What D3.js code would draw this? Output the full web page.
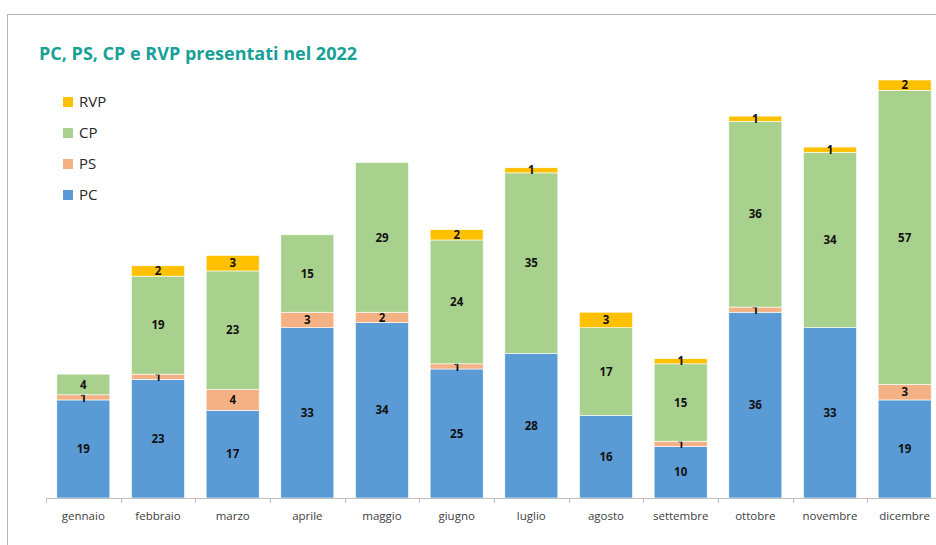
<!DOCTYPE html>
<meta charset="utf-8" />
<title>PC, PS, CP e RVP presentati nel 2022</title>
<script src="https://d3js.org/d3.v7.min.js"></script>
<style>
  body { margin: 0; background: #fff; }
  svg { display: block; font-family: "Open Sans", "Liberation Sans", sans-serif; }
</style>
<div id="chart"></div>
<script>
  // months and series values
  var months = ["gennaio", "febbraio", "marzo", "aprile", "maggio", "giugno",
    "luglio", "agosto", "settembre", "ottobre", "novembre", "dicembre"];
  var pc  = [19, 23, 17, 33, 34, 25, 28, 16, 10, 36, 33, 19];
  var ps  = [1, 1, 4, 3, 2, 1, 0, 0, 1, 1, 0, 3];
  var cp  = [4, 19, 23, 15, 29, 24, 35, 17, 15, 36, 34, 57];
  var rvp = [0, 2, 3, 0, 0, 2, 1, 3, 1, 1, 1, 2];

  var keys = ["PC", "PS", "CP", "RVP"];
  var colors = { PC: "#5b9bd5", PS: "#f4b183", CP: "#a9d18e", RVP: "#ffc000" };

  var width = 936, height = 545;
  var x0 = 46, x1 = 942;

  var table = months.map(function (m, i) {
    return { month: m, PC: pc[i], PS: ps[i], CP: cp[i], RVP: rvp[i] };
  });

  var svg = d3.select("#chart").append("svg")
    .attr("width", width)
    .attr("height", height);

  // outer frame
  svg.append("rect")
    .attr("x", 7.5).attr("y", 14.5)
    .attr("width", 1000).attr("height", 1000)
    .attr("fill", "none")
    .attr("stroke", "#b3b3b3");

  svg.append("text")
    .attr("x", 39).attr("y", 60)
    .attr("fill", "#17a097")
    .attr("font-size", 18)
    .attr("font-weight", "bold")
    .text("PC, PS, CP e RVP presentati nel 2022");

  var x = d3.scaleBand()
    .domain(months)
    .range([x0, x1])
    .paddingInner(0.29)
    .paddingOuter(0.145);

  var y = d3.scaleLinear()
    .domain([0, 81])
    .range([498, 80]);

  var stack = d3.stack().keys(keys)(table);

  var layer = svg.append("g").selectAll("g")
    .data(stack)
    .join("g")
    .attr("fill", function (d) { return colors[d.key]; });

  layer.selectAll("rect")
    .data(function (d) { return d.filter(function (p) { return p[1] > p[0]; }); })
    .join("rect")
    .attr("x", function (d) { return x(d.data.month); })
    .attr("y", function (d) { return y(d[1]); })
    .attr("width", x.bandwidth())
    .attr("height", function (d) { return y(d[0]) - y(d[1]); })
    .attr("stroke", "#ffffff")
    .attr("stroke-width", 0.6);

  // value labels
  layer.selectAll("text")
    .data(function (d) { return d.filter(function (p) { return p[1] > p[0]; }); })
    .join("text")
    .attr("x", function (d) { return x(d.data.month) + x.bandwidth() / 2; })
    .attr("y", function (d) { return (y(d[0]) + y(d[1])) / 2; })
    .attr("dy", "0.36em")
    .attr("text-anchor", "middle")
    .attr("fill", "#111")
    .attr("font-size", 11.5)
    .attr("font-weight", "bold")
    .text(function (d) { return d[1] - d[0]; });

  // x axis with ticks between categories
  var axis = svg.append("g");
  axis.append("line")
    .attr("x1", x0).attr("x2", x1)
    .attr("y1", 498.5).attr("y2", 498.5)
    .attr("stroke", "#bfbfbf");
  var step = x.step();
  axis.selectAll("line.tick")
    .data(d3.range(months.length + 1))
    .join("line")
    .attr("class", "tick")
    .attr("x1", function (i) { return Math.round(x0 + i * step) + 0.5; })
    .attr("x2", function (i) { return Math.round(x0 + i * step) + 0.5; })
    .attr("y1", 498).attr("y2", 503)
    .attr("stroke", "#bfbfbf");
  axis.selectAll("text")
    .data(months)
    .join("text")
    .attr("x", function (d) { return x(d) + x.bandwidth() / 2; })
    .attr("y", 520)
    .attr("text-anchor", "middle")
    .attr("fill", "#404040")
    .attr("font-size", 11.5)
    .text(function (d) { return d; });

  // legend
  var legend = svg.append("g").selectAll("g")
    .data(keys.slice().reverse())
    .join("g")
    .attr("transform", function (d, i) { return "translate(63," + (102 + i * 31) + ")"; });
  legend.append("rect")
    .attr("x", 0).attr("y", -5)
    .attr("width", 10).attr("height", 10)
    .attr("fill", function (d) { return colors[d]; });
  legend.append("text")
    .attr("x", 16).attr("dy", "0.36em")
    .attr("fill", "#262626")
    .attr("font-size", 15)
    .text(function (d) { return d; });
</script>
